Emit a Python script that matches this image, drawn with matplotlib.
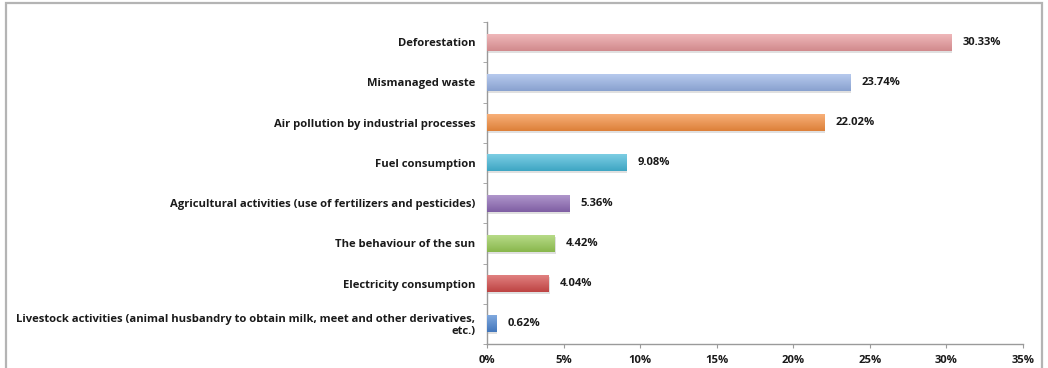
import matplotlib
matplotlib.use("Agg")
import matplotlib.pyplot as plt
import numpy as np
from matplotlib.patches import Rectangle
from matplotlib.colors import to_rgb

causes = [
    "Deforestation",
    "Mismanaged waste",
    "Air pollution by industrial processes",
    "Fuel consumption",
    "Agricultural activities (use of fertilizers and pesticides)",
    "The behaviour of the sun",
    "Electricity consumption",
    "Livestock activities (animal husbandry to obtain milk, meet and other derivatives,\netc.)",
]
shares = [30.33, 23.74, 22.02, 9.08, 5.36, 4.42, 4.04, 0.62]
bar_colors = ["#e8999c", "#98b3e6", "#f58e3f", "#45b8d8",
              "#8d69b5", "#98cb55", "#d34b4a", "#4a84d0"]
x_ticks = [0, 5, 10, 15, 20, 25, 30, 35]

plt.rcParams['font.family'] = ['Open Sans', 'DejaVu Sans']
text_col = "#1a1a1a"
fs = 8.07

fig = plt.figure(figsize=(10.48, 3.68), dpi=100)
fig.patches.append(Rectangle((6 / 1048, -0.05), 1036 / 1048, 1.05 - 3 / 368,
                             transform=fig.transFigure, fill=False,
                             edgecolor="#b4b4b4", linewidth=1.6))
ax = fig.add_axes([487 / 1048, 1 - 344 / 368, 536 / 1048, 322 / 368])

n = len(causes)
ypos = np.arange(n)
bars = ax.barh(ypos, shares, height=0.42, color=bar_colors, zorder=2)

# vertical gradient on each bar (lighter top, darker bottom)
grad = np.linspace(0, 1, 64).reshape(-1, 1)
for bar, col in zip(bars, bar_colors):
    base = np.array(to_rgb(col))
    light = base + (1 - base) * 0.3
    dark = base * 0.9
    img = light[None, None, :] * (1 - grad[:, :, None]) + dark[None, None, :] * grad[:, :, None]
    x0, y0 = bar.get_x(), bar.get_y()
    w, h = bar.get_width(), bar.get_height()
    im = ax.imshow(img, extent=(x0, x0 + w, y0 + h, y0), aspect="auto",
                   interpolation="bilinear", zorder=3)
    im.set_clip_path(bar)
    # soft shadow
    ax.add_patch(Rectangle((x0 + 0.06, y0 + 0.05), w, h, facecolor="#000000",
                           alpha=0.12, edgecolor="none", zorder=1))

for y, v in zip(ypos, shares):
    ax.annotate(f"{v:.2f}%", (v, y), xytext=(8, 0), textcoords="offset points",
                va="center", ha="left", fontsize=fs, fontweight="bold", color=text_col)

ax.set_xlim(0, 35)
ax.set_ylim(n - 0.5, -0.5)
ax.set_xticks(x_ticks)
ax.set_xticklabels([f"{t}%" for t in x_ticks])
ax.set_yticks(ypos)
ax.set_yticklabels(causes, ha="right", multialignment="right", linespacing=1.05)
ax.set_yticks(np.arange(n + 1) - 0.5, minor=True)
ax.tick_params(axis="y", which="major", length=0, pad=8.5, labelsize=fs, labelcolor=text_col)
ax.tick_params(axis="y", which="minor", length=3, color="#9a9a9a", direction="out")
ax.tick_params(axis="x", length=3, color="#9a9a9a", labelsize=fs, labelcolor=text_col, pad=5)
for lab in ax.get_xticklabels() + ax.get_yticklabels():
    lab.set_fontweight("bold")

for side in ["top", "right"]:
    ax.spines[side].set_visible(False)
for side in ["left", "bottom"]:
    ax.spines[side].set_color("#9a9a9a")
    ax.spines[side].set_linewidth(1.0)

fig.savefig("out.png", dpi=100)
